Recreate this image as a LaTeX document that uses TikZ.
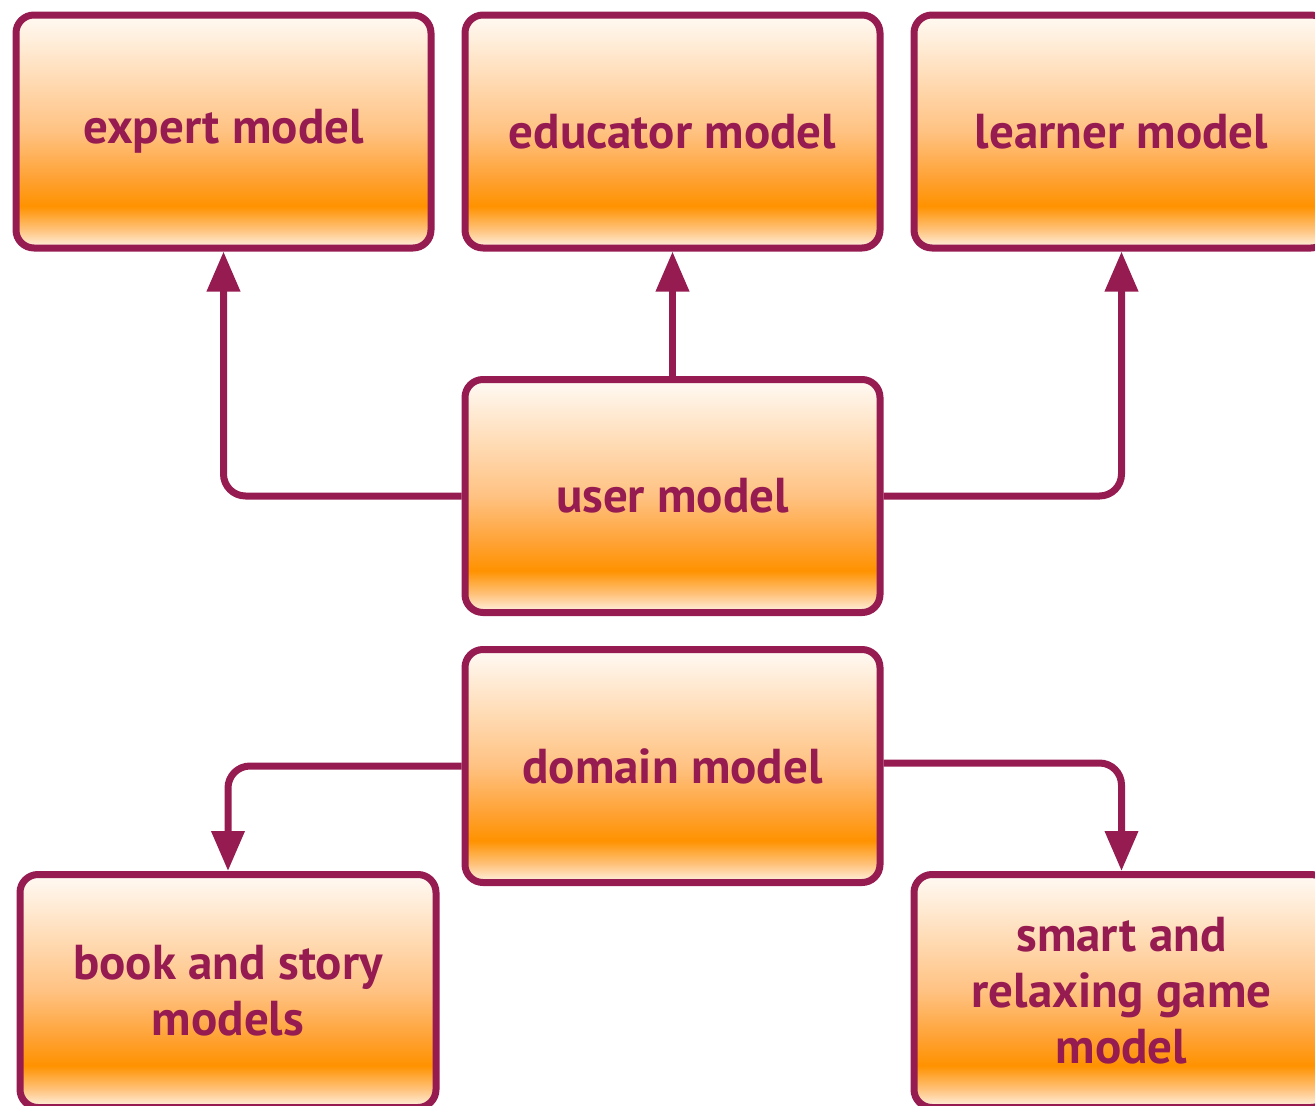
\documentclass[tikz,border=0pt]{standalone}
\usepackage{fontspec}
\setmainfont{PT Sans}
\usetikzlibrary{arrows.meta}

\definecolor{plum}{HTML}{951B51}
\definecolor{shA}{HTML}{FFF3E6}
\definecolor{shB}{HTML}{FFC27A}
\definecolor{shC}{HTML}{FF9200}
\definecolor{shD}{HTML}{FFA234}
\definecolor{shE}{HTML}{FFC282}
\definecolor{shF}{HTML}{FFDDB8}
\definecolor{shG}{HTML}{FFFAF4}

% vertical fill of the boxes: pale rim at the bottom, strong orange band, fading to white at the top
\pgfdeclareverticalshading{boxfill}{100bp}{%
  color(0bp)=(shA); color(25bp)=(shA); color(29bp)=(shB); color(34bp)=(shC);
  color(40bp)=(shD); color(50bp)=(shE); color(62bp)=(shF); color(75bp)=(shG);
  color(100bp)=(shG)}

\tikzset{
  modelbox/.style={rectangle, rounded corners=18pt, draw=plum, line width=7pt,
    shade, shading=boxfill, minimum width=415pt, minimum height=233pt,
    inner sep=0pt, align=center, text=plum,
    font=\fontsize{49}{56}\selectfont\bfseries},
  conn/.style={draw=plum, line width=7pt, rounded corners=22pt,
    -{Triangle[width=32pt,length=40pt]}},
}

\begin{document}
\begin{tikzpicture}[x=1pt, y=-1pt]
  \useasboundingbox (0,0) rectangle (1315,1106);
  \clip (0,0) rectangle (1315,1106);

  % top row
  \node[modelbox] (expert)   at (223.5,131.5) {expert model};
  \node[modelbox] (educator) at (672.5,131.5) {educator model};
  \node[modelbox] (learner)  at (1121.5,131.5) {learner model};

  % centre column
  \node[modelbox] (user)   at (672.5,496) {user model};
  \node[modelbox] (domain) at (672.5,766) {domain model};

  % bottom row
  \node[modelbox, minimum width=416pt] (book)  at (228,991) {book and story\\models};
  \node[modelbox] (smart) at (1121.5,991) {smart and\\relaxing game\\model};

  % user model feeds the three models above
  \draw[conn] (user.west) -| (expert.south);
  \draw[conn] (user.north) -- (educator.south);
  \draw[conn] (user.east) -| (learner.south);

  % domain model splits into the two models below
  \draw[conn] (domain.west) -| (book.north);
  \draw[conn] ([yshift=3pt]domain.east) -| (smart.north);
\end{tikzpicture}
\end{document}
